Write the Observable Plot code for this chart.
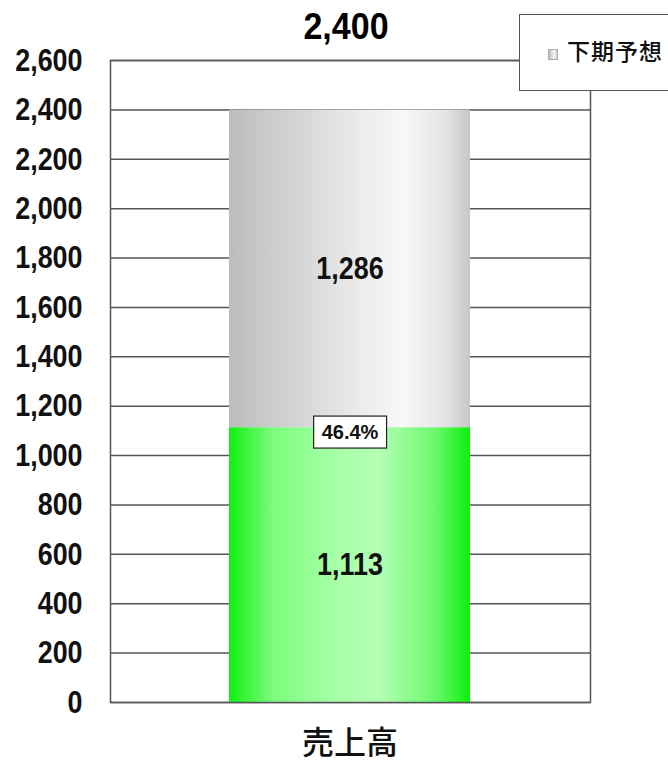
<!DOCTYPE html>
<html>
<head>
<meta charset="utf-8">
<script src="https://cdn.jsdelivr.net/npm/d3@7"></script>
<script src="https://cdn.jsdelivr.net/npm/@observablehq/plot@0.6"></script>
<style>
  html, body { margin: 0; padding: 0; background: #fff; }
  #wrap { position: relative; width: 668px; height: 764px; overflow: hidden; }
  #legend {
    position: absolute; left: 519px; top: 14px; width: 200px; height: 77px;
    background: #fff; border: 1.5px solid #555; box-sizing: border-box;
    font-family: "Noto Sans CJK JP", sans-serif; font-size: 23px; font-weight: 500;
    color: #111;
  }
  #legend .sw {
    position: absolute; left: 28px; top: 34px; width: 10px; height: 11px;
    background: linear-gradient(to right, #bdbdbd, #f4f4f4 65%, #cfcfcf);
    border: 1px solid #aaa; box-sizing: border-box;
  }
  #legend .lb { position: absolute; left: 47px; top: 24px; letter-spacing: 1px; line-height: 1; }
</style>
</head>
<body>
<div id="wrap">
  <div id="chart"></div>
  <div id="legend"><span class="sw"></span><span class="lb">下期予想</span></div>
</div>
<script>
// ---- data ----
const categories = ["売上高"];
const segments = ["上期実績", "下期予想"];
const firstHalf = [1113];
const secondHalf = [1286];
const totals = [2400];
const ratioLabels = ["46.4%"];
const yTicks = [0, 200, 400, 600, 800, 1000, 1200, 1400, 1600, 1800, 2000, 2200, 2400, 2600];

const rows = [];
categories.forEach((c, i) => {
  rows.push({cat: c, seg: segments[0], value: firstHalf[i]});
  rows.push({cat: c, seg: segments[1], value: secondHalf[i]});
});
const totalRows = categories.map((c, i) => ({cat: c, total: totals[i]}));
const ratioRows = categories.map((c, i) => ({cat: c, y: firstHalf[i], label: ratioLabels[i]}));

const numFont = `"Liberation Sans", Arial, sans-serif`;

const chart = Plot.plot({
  width: 668,
  height: 764,
  marginTop: 60,
  marginBottom: 62,
  marginLeft: 110,
  marginRight: 78,
  style: {fontFamily: numFont, background: "#fff", overflow: "visible"},
  x: {domain: categories, padding: 0.33, label: null},
  y: {domain: [0, 2600], label: null},
  color: {domain: segments, range: ["url(#gGreen)", "url(#gGray)"]},
  marks: [
    Plot.gridY(yTicks, {stroke: "#555", strokeOpacity: 1, strokeWidth: 1.5}),
    Plot.barY(rows, {x: "cat", y: "value", z: "seg", fill: "seg", order: segments, inset: 0}),
    Plot.frame({stroke: "#555", strokeWidth: 1.5}),
    Plot.axisY({ticks: yTicks, tickFormat: d3.format(","), tickSize: 0, tickPadding: 28,
      fontSize: 32, fontWeight: "bold", fill: "#111"}),
    Plot.axisX({tickSize: 0, tickPadding: 29, fontSize: 32,
      fontFamily: "Noto Sans CJK JP", fontWeight: 500, fill: "#111"}),
    Plot.text(rows, Plot.stackY({x: "cat", y: "value", z: "seg", order: segments,
      text: d => d3.format(",")(d.value), fontSize: 32, fontWeight: "bold", fill: "#111",
      className: "val-label"})),
    Plot.text(ratioRows, {x: "cat", y: "y", text: "label", dy: 5,
      fontSize: 20, fontWeight: "bold", fill: "#111", className: "ratio-label"}),
    Plot.text(totalRows, {x: "cat", text: d => d3.format(",")(d.total), frameAnchor: "top",
      lineAnchor: "middle", dy: -33, dx: -4, fontSize: 37, fontWeight: "bold", fill: "#000",
      className: "total-label"})
  ]
});

// gradient defs
const ns = "http://www.w3.org/2000/svg";
const defs = document.createElementNS(ns, "defs");
function grad(id, stops) {
  const g = document.createElementNS(ns, "linearGradient");
  g.setAttribute("id", id);
  g.setAttribute("x1", "0"); g.setAttribute("x2", "1");
  g.setAttribute("y1", "0"); g.setAttribute("y2", "0");
  stops.forEach(([o, c]) => {
    const s = document.createElementNS(ns, "stop");
    s.setAttribute("offset", o); s.setAttribute("stop-color", c);
    g.appendChild(s);
  });
  defs.appendChild(g);
}
grad("gGreen", [[0, "#0ff00f"], [0.18, "#7cfc7c"], [0.45, "#a8ffa8"], [0.62, "#b4ffb4"], [0.85, "#6ef96e"], [1, "#0cf00c"]]);
grad("gGray", [[0, "#bcbcbc"], [0.3, "#d6d6d6"], [0.55, "#ececec"], [0.72, "#f8f8f8"], [0.9, "#e4e4e4"], [1, "#c6c6c6"]]);
chart.insertBefore(defs, chart.firstChild);

document.getElementById("chart").appendChild(chart);

// condense the numeric labels (narrow gothic look)
function condense(sel, f) {
  chart.querySelectorAll(sel).forEach(t => {
    const w = t.getComputedTextLength();
    t.setAttribute("textLength", (w * f).toFixed(1));
    t.setAttribute("lengthAdjust", "spacingAndGlyphs");
  });
}
condense('g[aria-label="y-axis tick label"] text', 0.84);
condense('.val-label text', 0.84);
condense('.total-label text', 0.92);

// white box behind ratio label
const rl = chart.querySelector(".ratio-label");
if (rl) {
  rl.querySelectorAll("text").forEach(t => {
    const b = t.getBBox();
    const r = document.createElementNS(ns, "rect");
    r.setAttribute("x", b.x - 8); r.setAttribute("y", b.y - 5);
    r.setAttribute("width", b.width + 16); r.setAttribute("height", b.height + 10);
    r.setAttribute("fill", "#fff"); r.setAttribute("stroke", "#222"); r.setAttribute("stroke-width", 1.2);
    const tr = t.getAttribute("transform");
    if (tr) r.setAttribute("transform", tr);
    t.parentNode.insertBefore(r, t);
  });
}
</script>
</body>
</html>
